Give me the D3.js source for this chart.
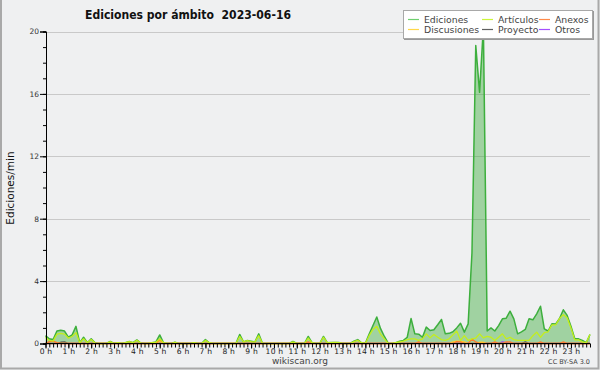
<!DOCTYPE html>
<html><head><meta charset="utf-8">
<script src="https://cdn.jsdelivr.net/npm/d3@7"></script>
<style>
html,body{margin:0;padding:0;background:#eff0f1;}
svg{display:block;font-family:"DejaVu Sans",sans-serif;}
</style>
</head><body>
<svg id="chart" width="600" height="370"></svg>
<script>
// ---- data (10-minute slots, 0:00 .. 23:50) ----
const hourLabels = ["0 h","1 h","2 h","3 h","4 h","5 h","6 h","7 h","8 h","9 h","10 h","11 h",
  "12 h","13 h","14 h","15 h","16 h","17 h","18 h","19 h","20 h","21 h","22 h","23 h"];
const yTicks = [0,4,8,12,16,20];
const seriesNames = ["Ediciones","Artículos","Anexos","Discusiones","Proyecto","Otros"];

const ediciones = [
  0.5,0.3,0.25,0.8,0.85,0.8,  0.4,0.55,1.1,0.05,0.4,0.05,
  0.3,0.05,0,0,0,0.13,  0,0.05,0,0.05,0.13,0.05,
  0.23,0.03,0,0,0.05,0.1,  0.55,0.05,0,0,0.08,0,
  0,0,0,0.05,0,0,  0.25,0.05,0,0,0,0,
  0,0,0,0.58,0.1,0.2,  0.15,0.1,0.62,0,0,0,
  0,0,0,0,0,0.13,  0,0,0,0.45,0.05,0,
  0,0.45,0.05,0.06,0.07,0.06,  0,0,0,0.15,0.25,0.05,
  0.02,0.6,1.15,1.7,0.95,0.45,  0.02,0,0.05,0.15,0.2,0.4,
  1.6,0.62,0.6,0.4,1.05,0.83,  0.88,1.2,1.54,0.62,0.65,0.75,
  1.0,1.3,0.73,1.26,5.8,19.1,  16.1,20.3,0.8,1.0,0.8,1.15,
  1.58,1.62,2.07,1.58,0.62,0.75,  0.9,1.58,1.52,1.9,2.39,0.94,
  0.8,1.26,1.25,1.6,2.16,1.8,  1.1,0.3,0.3,0.2,0.05,0.58
];
const articulos = [
  0.4,0.2,0.15,0.6,0.65,0.6,  0.35,0.45,0.7,0.05,0.3,0.05,
  0.25,0.03,0,0,0,0.12,  0,0.05,0,0.05,0.12,0.05,
  0.2,0.03,0,0,0.05,0.08,  0.3,0.05,0,0,0.08,0,
  0,0,0,0.05,0,0,  0.2,0.05,0,0,0,0,
  0,0,0,0.45,0.1,0.18,  0.12,0.1,0.5,0,0,0,
  0,0,0,0,0,0.1,  0,0,0,0.35,0.05,0,
  0,0.4,0.05,0.06,0.07,0.06,  0,0,0,0.12,0.2,0.05,
  0,0.5,0.9,1.1,0.6,0.3,  0,0,0.05,0.1,0.15,0.25,
  0.3,0.3,0.2,0.3,0.62,0.36,  0.58,0.4,0.25,0.2,0.3,0.55,
  0.8,0.2,0.5,0.2,0.3,0.35,  0.62,0.36,0.45,0.4,0.2,0.4,
  0.62,0.3,0.4,0.25,0.2,0.2,  0.2,0.2,0.5,0.73,0.4,0.7,
  0.75,1.2,1.2,1.6,1.85,1.65,  1.0,0.23,0.23,0.1,0.05,0.58
];
const anexos = [
  0,0.12,0.15,0.05,0,0,  0,0,0,0,0,0,
  0,0,0,0,0,0,  0,0,0,0,0,0,
  0,0,0,0,0,0,  0.25,0,0,0,0,0,
  0,0,0,0,0,0,  0,0,0,0,0,0,
  0,0,0,0,0,0,  0,0,0,0,0,0,
  0,0,0,0,0,0,  0,0,0,0.1,0,0,
  0,0,0,0,0,0,  0,0,0,0,0,0,
  0,0,0,0,0,0,  0,0,0,0,0,0,
  0,0,0.1,0,0,0,  0,0,0,0,0,0,
  0.12,0.1,0,0,0.28,0.1,  0,0,0,0,0.1,0,
  0,0.1,0.1,0,0,0,  0,0,0,0,0.1,0,
  0,0,0,0,0.1,0,  0,0,0,0,0,0
];
const discusiones = [
  0,0,0,0,0,0,  0,0,0,0,0,0,
  0,0,0,0,0,0,  0,0,0,0,0,0,
  0,0,0,0,0,0,  0.15,0,0,0,0,0,
  0,0,0,0,0,0,  0,0,0,0,0,0,
  0,0,0,0,0,0,  0,0,0,0,0,0,
  0,0,0,0,0,0,  0,0,0,0,0,0,
  0,0,0,0,0,0,  0,0,0,0,0,0,
  0,0,0,0,0,0,  0,0,0,0,0,0,
  0,0,0,0,0,0,  0,0,0,0,0,0.1,
  0.15,0.15,0.1,0,0,0,  0.08,0.08,0,0,0,0,
  0,0,0,0,0,0,  0,0,0,0,0,0,
  0,0,0,0,0,0,  0,0,0,0,0,0
];
const proyecto = [
  0,0,0,0,0.08,0.1,  0,0,0,0,0,0,
  0,0,0,0,0,0,  0,0,0,0,0,0,
  0,0,0,0,0,0,  0,0,0,0,0,0,
  0,0,0,0,0,0,  0,0,0,0,0,0,
  0,0,0,0,0,0,  0,0,0,0,0,0,
  0,0,0,0,0,0,  0,0,0,0,0,0,
  0,0,0,0,0,0,  0,0,0,0,0,0,
  0,0,0,0,0,0,  0,0,0,0,0,0,
  0,0,0,0,0,0,  0,0,0,0,0,0,
  0,0,0,0,0,0,  0,0,0,0,0,0,
  0,0,0,0,0,0,  0.1,0,0,0,0,0,
  0,0,0,0,0,0,  0,0,0,0,0,0
];
const otros = [
  0,0,0,0,0,0,  0,0,0,0,0,0,
  0,0,0,0,0,0,  0,0,0,0,0,0,
  0,0,0,0,0,0,  0,0,0,0,0,0,
  0,0,0,0,0,0,  0,0,0,0,0,0,
  0,0,0,0,0,0,  0,0,0,0,0,0,
  0,0,0,0,0,0,  0,0,0,0,0,0,
  0,0,0,0,0,0,  0,0,0,0,0,0,
  0,0,0,0,0,0,  0,0,0,0,0,0,
  0,0,0,0,0,0,  0,0,0,0,0,0,
  0,0,0,0,0,0,  0,0,0,0,0,0,
  0.1,0.05,0,0,0,0,  0,0,0,0,0,0,
  0,0,0,0,0,0,  0,0,0,0,0,0
];

// ---- drawing ----
const svg = d3.select("#chart");
const W = 600, H = 370;
const x = d3.scaleLinear().domain([0, ediciones.length - 1]).range([45.5, 590]);
const y = d3.scaleLinear().domain([0, 20]).range([343.5, 31.5]);

svg.append("rect").attr("x",0).attr("y",0).attr("width",W).attr("height",H).attr("fill","#eff0f1");

// grid
svg.append("g").selectAll("line").data(yTicks.filter(d=>d>0)).join("line")
  .attr("x1",46).attr("x2",590).attr("y1",d=>Math.round(y(d))+0.5).attr("y2",d=>Math.round(y(d))+0.5)
  .attr("stroke","#c9c9c9").attr("stroke-width",1);

const colors = {
  Ediciones:"#3daf3d", Artículos:"#c4ee1c", Anexos:"#ff7a2e",
  Discusiones:"#ffcf2a", Proyecto:"#555555", Otros:"#9a3cff"
};
const legendColors = {
  Ediciones:"#6fcf6f", Artículos:"#ccf53a", Anexos:"#ff8a4a",
  Discusiones:"#ffd84a", Proyecto:"#606060", Otros:"#a550ff"
};

const area = d3.area().x((d,i)=>x(i)).y0(y(0)).y1(d=>y(d));
const line = d3.line().x((d,i)=>x(i)).y(d=>y(d));

svg.append("path").datum(ediciones).attr("d",area).attr("fill","#33aa33").attr("fill-opacity",0.42);

const seriesData = [
  ["Otros", otros], ["Proyecto", proyecto], ["Discusiones", discusiones], ["Anexos", anexos],
  ["Artículos", articulos]
];
svg.append("path").datum(ediciones).attr("d",line).attr("fill","none")
  .attr("stroke",colors.Ediciones).attr("stroke-width",1.5).attr("stroke-linejoin","round");
seriesData.forEach(([name, vals]) => {
  svg.append("path").datum(vals).attr("d",line).attr("fill","none")
    .attr("stroke",colors[name]).attr("stroke-width",1.3).attr("stroke-linejoin","round");
});

// y axis
const yMajor = d3.axisLeft(y).tickValues(yTicks).tickSize(6).tickPadding(1).tickFormat(d3.format("d"));
const yMinor = d3.axisLeft(y).tickValues(d3.range(0,21)).tickSize(3).tickFormat("");
const gyM = svg.append("g").attr("transform","translate(46,0)").call(yMinor);
const gy = svg.append("g").attr("transform","translate(46,0)").call(yMajor);
[gy, gyM].forEach(g=>{
  g.select(".domain").attr("stroke","#000");
  g.selectAll(".tick line").attr("stroke","#000");
});
gy.selectAll("text").attr("font-size",7.5).attr("fill","#333").attr("font-family","DejaVu Sans");

// x axis
const slots = d3.range(0, ediciones.length);
const xMinor = d3.axisBottom(x).tickValues(slots).tickSize(4).tickFormat("");
const hourIdx = d3.range(0, 24).map(h => h * 6);
const xMajor = d3.axisBottom(x).tickValues(hourIdx).tickSize(5).tickPadding(0)
  .tickFormat((d,i)=>hourLabels[i]);
const gxm = svg.append("g").attr("transform","translate(0,343.5)").call(xMinor);
const gx = svg.append("g").attr("transform","translate(0,343.5)").call(xMajor);
gxm.select(".domain").attr("stroke","#000").attr("d","M45.5,0H590");
gx.select(".domain").remove();
gxm.selectAll(".tick line").attr("stroke","#000").attr("stroke-width",1);
gx.selectAll(".tick line").attr("stroke","#000");
gx.selectAll("text").attr("font-size",7.6).attr("fill","#222").attr("font-family","DejaVu Sans")
  .attr("dy","0.75em").attr("letter-spacing","0.2");

// y title
svg.append("text").attr("transform","translate(14,188) rotate(-90)").attr("text-anchor","middle")
  .attr("font-size",10.5).attr("fill","#111").text("Ediciones/min");

// title
svg.append("text").attr("x",85).attr("y",18.5).attr("font-size",12.5).attr("font-weight","bold")
  .attr("fill","#111").attr("textLength",206).attr("lengthAdjust","spacingAndGlyphs")
  .style("white-space","pre").text("Ediciones por ámbito  2023-06-16");

// footer
svg.append("text").attr("x",300).attr("y",364).attr("text-anchor","middle").attr("font-size",9)
  .attr("fill","#444").text("wikiscan.org");
svg.append("text").attr("x",590).attr("y",364).attr("text-anchor","end").attr("font-size",6.5)
  .attr("fill","#444").text("CC BY-SA 3.0");

// legend
const lg = svg.append("g");
lg.append("rect").attr("x",404).attr("y",11).attr("width",190).attr("height",29)
  .attr("fill","#999");
lg.append("rect").attr("x",403.5).attr("y",10.5).attr("width",189).attr("height",28)
  .attr("fill","#ffffff").attr("stroke","#a8a8a8").attr("stroke-width",1);
const legendCols = [408, 482, 539];
const legendRows = [19.5, 29.5];
seriesNames.forEach((name, k) => {
  const cx = legendCols[k % 3], cy = legendRows[Math.floor(k / 3)];
  lg.append("line").attr("x1",cx).attr("x2",cx+11).attr("y1",cy).attr("y2",cy)
    .attr("stroke",legendColors[name]).attr("stroke-width",1.2);
  lg.append("text").attr("x",cx+16).attr("y",cy+3.3).attr("font-size",9.3)
    .attr("fill","#444").text(name);
});

// frame
svg.append("path").attr("d","M1,0V368.5H598.5V0").attr("fill","none").attr("stroke","#a9a9a9").attr("stroke-width",2);
</script>
</body></html>
